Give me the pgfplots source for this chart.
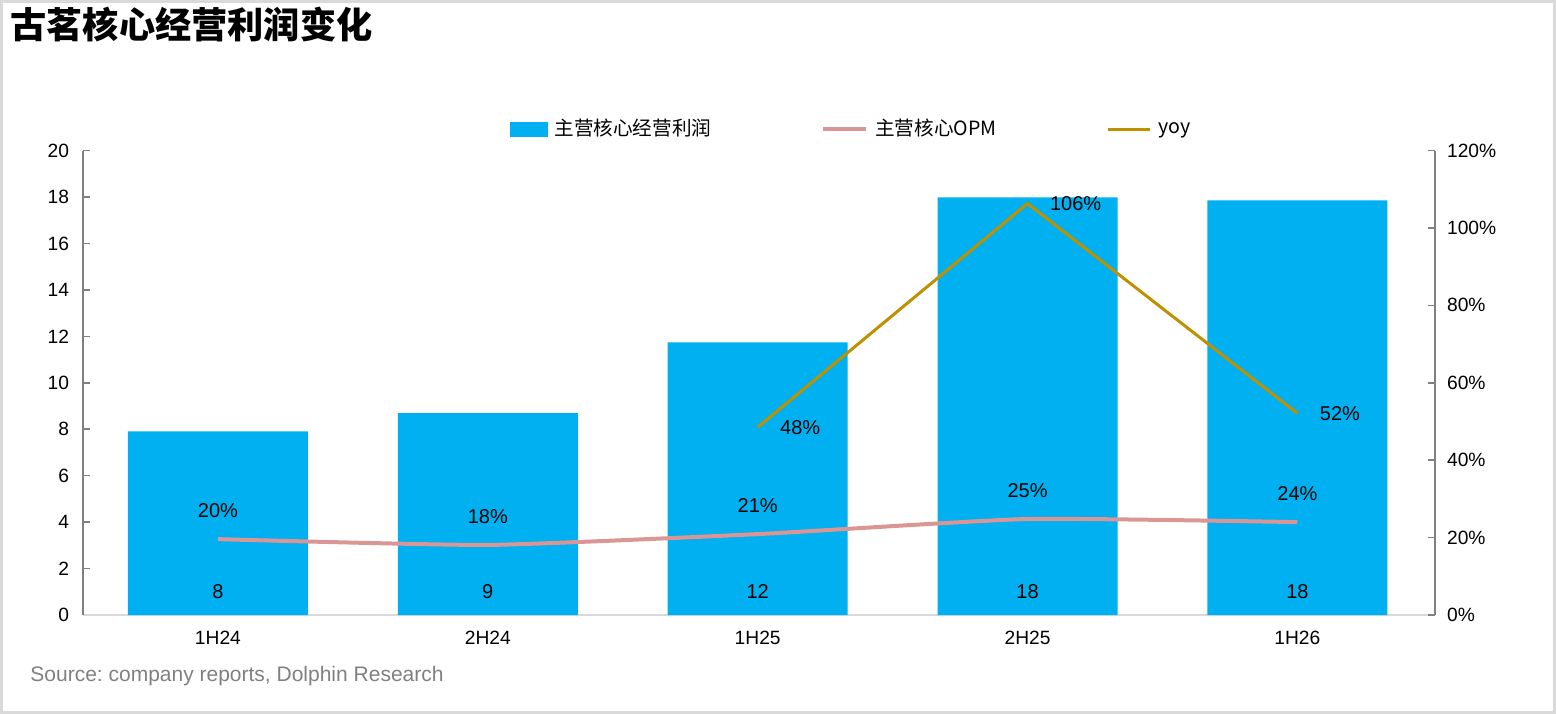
\documentclass[border=0pt]{standalone}
\usepackage{pgfplots}
\pgfplotsset{compat=1.18}
\usepackage{fontspec}
\setmainfont{Liberation Sans}
\newfontfamily\cjk{Noto Sans CJK SC}
\definecolor{barblue}{HTML}{00B0F0}
\definecolor{opmc}{HTML}{D99694}
\definecolor{yoyc}{HTML}{BF9000}
\definecolor{axgray}{HTML}{808080}
\definecolor{xgray}{HTML}{D9D9D9}
\frenchspacing
\begin{document}
\begin{tikzpicture}[x=1pt,y=1pt]
\draw[xgray, line width=1.5pt] (0.75,0.75) rectangle (777.25,356.25);
\node[anchor=west, inner sep=0, font=\cjk\bfseries\fontsize{18.1}{20}\selectfont] at (5,344.5) {古茗核心经营利润变化};
\node[anchor=west, inner sep=0, text=axgray, font=\fontsize{10.5}{12}\selectfont] at (15,19) {Source: company reports, Dolphin Research};

\begin{axis}[
  at={(41.5pt,49.5pt)}, anchor=south west, scale only axis,
  width=676pt, height=232.25pt,
  xmin=-0.5, xmax=4.51, ymin=0, ymax=20,
  axis x line*=bottom, axis y line*=left,
  x axis line style={xgray, line width=1pt, -},
  y axis line style={axgray, line width=0.75pt, -},
  xtick={0,1,2,3,4},
  xticklabels={1H24,2H24,1H25,2H25,1H26},
  xtick style={draw=none},
  ytick={0,2,...,20},
  ytick style={axgray, line width=0.75pt},
  tick align=inside, major tick length=3.5pt,
  /pgf/number format/assume math mode=true,
  tick label style={font=\fontsize{9.6}{11}\selectfont, text=black},
  xticklabel style={yshift=-4.6pt},
  yticklabel style={xshift=-3.5pt},
]
\addplot[ybar, bar width=90pt, bar shift=0pt, fill=barblue, draw=none]
  coordinates {(0,7.91) (1,8.69) (2,11.74) (3,17.98) (4,17.85)};
\addplot[draw=none, mark=none, nodes near coords, point meta=explicit symbolic,
  every node near coord/.style={anchor=center, text=black, inner sep=0pt, font=\fontsize{10}{11}\selectfont}]
  coordinates {(0,1)[8] (1,1)[9] (2,1)[12] (3,1)[18] (4,1)[18]};
\end{axis}

\begin{axis}[
  at={(41.5pt,49.5pt)}, anchor=south west, scale only axis,
  width=676pt, height=232.25pt,
  xmin=-0.5, xmax=4.51, ymin=0, ymax=120,
  axis x line=none, axis y line*=right,
  y axis line style={axgray, line width=0.75pt, -},
  ytick={0,20,...,120},
  yticklabel={\pgfmathprintnumber{\tick}\%},
  ytick style={axgray, line width=0.75pt},
  tick align=inside, major tick length=3.5pt,
  /pgf/number format/assume math mode=true,
  tick label style={font=\fontsize{9.6}{11}\selectfont, text=black},
  yticklabel style={xshift=2.5pt},
  clip=false,
  legend columns=3,
  legend style={at={(0.569,1.046)}, anchor=center, draw=none, fill=none,
    font=\cjk\fontsize{9.8}{12}\selectfont,
    /tikz/every even column/.append style={column sep=53pt},
    /tikz/column 4/.append style={column sep=57pt},
    /tikz/every odd column/.append style={column sep=1.5pt}},
]
\addlegendimage{legend image code/.code={\fill[barblue] (0pt,-3.5pt) rectangle (18.5pt,3.5pt);}}
\addlegendentry{主营核心经营利润}
\addlegendimage{legend image code/.code={\draw[opmc, line width=2pt] (0pt,0pt) -- (21.5pt,0pt);}}
\addlegendentry{主营核心OPM}
\addlegendimage{legend image code/.code={\draw[yoyc, line width=1.5pt] (0pt,0pt) -- (21pt,0pt);}}
\addlegendentry{yoy}

\addplot[opmc, line width=2pt, smooth, tension=0.3, mark=none,
  nodes near coords, point meta=explicit symbolic,
  every node near coord/.style={anchor=center, yshift=14.3pt, text=black, inner sep=0pt, font=\fontsize{10}{11}\selectfont}]
  coordinates {(0,19.6)[20\%] (1,18.1)[18\%] (2,20.9)[21\%] (3,24.8)[25\%] (4,24.0)[24\%]};
\addplot[yoyc, line width=1.5pt, mark=none,
  nodes near coords, point meta=explicit symbolic,
  every node near coord/.style={anchor=west, xshift=10.5pt, text=black, inner sep=0pt, font=\fontsize{10}{11}\selectfont}]
  coordinates {(2,48.5)[48\%] (3,106.3)[106\%] (4,52.1)[52\%]};
\end{axis}
\end{tikzpicture}
\end{document}
